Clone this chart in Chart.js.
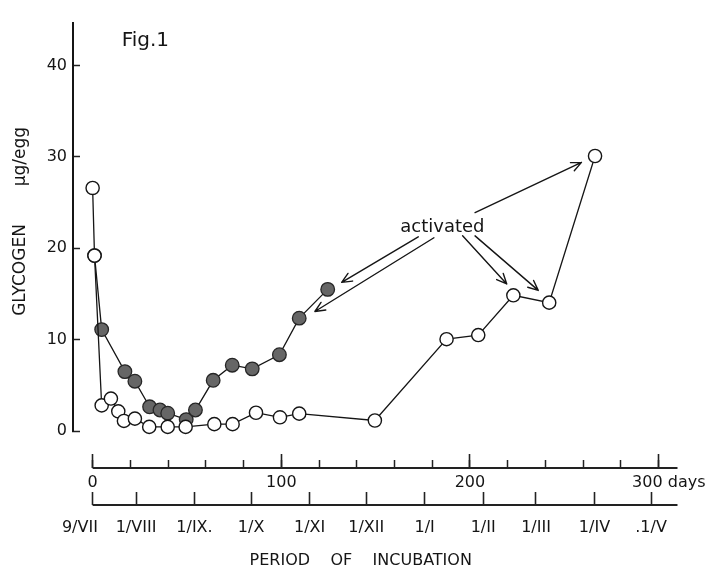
<!DOCTYPE html>
<html>
<head>
<meta charset="utf-8">
<script src="https://cdn.jsdelivr.net/npm/chart.js@4/dist/chart.umd.min.js"></script>
<style>
  html, body { margin: 0; padding: 0; background: #ffffff; }
  canvas { display: block; }
</style>
</head>
<body>
<canvas id="c" width="708" height="572"></canvas>
<script>
// ---- Data (x: days of incubation from 9/VII, y: glycogen µg/egg) ----
const OPEN_DAYS      = [0, 1, 4.8, 9.7, 13.6, 16.6, 22.4, 30, 39.8, 49.3, 64.5, 74.2, 86.6, 99.3, 109.5, 149.6, 187.6, 204.4, 223, 242, 266.3];
const OPEN_GLYCOGEN  = [26.6, 19.2, 2.8, 3.55, 2.15, 1.1, 1.35, 0.45, 0.45, 0.45, 0.75, 0.75, 2.0, 1.5, 1.9, 1.15, 10.05, 10.5, 14.85, 14.05, 30.1];

const FILLED_DAYS     = [1, 4.8, 17.1, 22.4, 30.2, 35.7, 39.8, 49.6, 54.5, 63.9, 74, 84.6, 99, 109.5, 124.6];
const FILLED_GLYCOGEN = [19.2, 11.1, 6.5, 5.45, 2.65, 2.3, 1.95, 1.25, 2.3, 5.55, 7.2, 6.8, 8.35, 12.35, 15.5];

// ---- Tick values and labels ----
const Y_TICKS           = [0, 10, 20, 30, 40];
const DAY_MINOR_TICKS   = [0, 20, 40, 60, 80, 100, 120, 140, 160, 180, 200, 220, 240, 260, 280, 300];
const DAY_MAJOR_TICKS   = [0, 100, 200, 300];
const DAY_MAJOR_LABELS  = ['0', '100', '200', '    300 days'];
const DATE_TICK_DAYS    = [0, 23, 54, 84, 115, 145, 176, 207, 235, 266, 296];
const DATE_TICK_LABELS  = ['9/VII     ', '1/VIII', '1/IX.', '1/X', '1/XI', '1/XII', '1/I', '1/II', '1/III', '1/IV', '.1/V'];

// ---- Axis ranges / placement (in data units) ----
const X_MIN = -10.4, X_MAX = 310.8;
const Y_MIN = 0, Y_MAX = 44.7;
const DAYS_AXIS_AT = -4.05;   // glycogen value at which the "days" axis is drawn
const DATE_AXIS_AT = -8.1;    // glycogen value at which the calendar axis is drawn
const AXIS_LINE_FROM = 0, AXIS_LINE_TO = 310;

// ---- Annotations (data coordinates) ----
const FIG_LABEL = { text: 'Fig.1', day: 15.4, value: 42.1 };
const ACTIVATED_LABEL = { text: 'activated', day: 185.4, value: 21.8 };
const ARROWS = [
  [202.7, 23.9, 259.1, 29.4],
  [196.1, 21.36, 219.5, 16.1],
  [202.7, 21.36, 236.2, 15.39],
  [172.6, 21.25, 132.0, 16.27],
  [180.9, 21.15, 117.8, 13.08]
];

const FONT = 'DejaVu Sans';
const INK = '#151515';

const zeroPad = (s) => { s.paddingLeft = 0; s.paddingRight = 0; s.paddingTop = 0; s.paddingBottom = 0; };
const pts = (xs, ys) => xs.map((d, i) => ({ x: d, y: ys[i] }));

const annotate = {
  id: 'annotate',
  afterDatasetsDraw(chart) {
    const { ctx, scales: { x, y } } = chart;
    ctx.save();
    ctx.fillStyle = INK;
    ctx.textBaseline = 'alphabetic';
    ctx.textAlign = 'left';
    ctx.font = '20px "' + FONT + '"';
    ctx.fillText(FIG_LABEL.text, x.getPixelForValue(FIG_LABEL.day), y.getPixelForValue(FIG_LABEL.value));
    ctx.textAlign = 'center';
    ctx.font = '18px "' + FONT + '"';
    ctx.fillText(ACTIVATED_LABEL.text, x.getPixelForValue(ACTIVATED_LABEL.day), y.getPixelForValue(ACTIVATED_LABEL.value));

    ctx.strokeStyle = INK;
    ctx.lineWidth = 1.4;
    ctx.lineCap = 'round';
    ctx.lineJoin = 'round';
    for (const [d0, v0, d1, v1] of ARROWS) {
      const x0 = x.getPixelForValue(d0), y0 = y.getPixelForValue(v0);
      const x1 = x.getPixelForValue(d1), y1 = y.getPixelForValue(v1);
      const a = Math.atan2(y1 - y0, x1 - x0);
      const L = 11, w = 0.42;
      ctx.beginPath();
      ctx.moveTo(x0, y0);
      ctx.lineTo(x1, y1);
      ctx.moveTo(x1 - L * Math.cos(a - w), y1 - L * Math.sin(a - w));
      ctx.lineTo(x1, y1);
      ctx.lineTo(x1 - L * Math.cos(a + w), y1 - L * Math.sin(a + w));
      ctx.stroke();
    }
    ctx.restore();
  }
};

new Chart(document.getElementById('c'), {
  type: 'line',
  data: {
    datasets: [
      {
        label: 'open circles',
        data: pts(OPEN_DAYS, OPEN_GLYCOGEN),
        borderColor: INK, borderWidth: 1.3,
        pointRadius: 6.6, pointBorderWidth: 1.4,
        pointBackgroundColor: '#ffffff', pointBorderColor: INK,
        tension: 0, clip: false
      },
      {
        label: 'filled circles',
        data: pts(FILLED_DAYS, FILLED_GLYCOGEN),
        borderColor: INK, borderWidth: 1.3,
        pointRadius: 6.8, pointBorderWidth: 1.3,
        pointBackgroundColor: '#666666', pointBorderColor: '#262626',
        tension: 0, clip: false
      },
      {
        label: 'days axis line',
        data: [{ x: AXIS_LINE_FROM, y: DAYS_AXIS_AT }, { x: AXIS_LINE_TO, y: DAYS_AXIS_AT }],
        borderColor: '#222', borderWidth: 2, pointRadius: 0, clip: false
      },
      {
        label: 'date axis line',
        data: [{ x: AXIS_LINE_FROM, y: DATE_AXIS_AT }, { x: AXIS_LINE_TO, y: DATE_AXIS_AT }],
        borderColor: '#222', borderWidth: 2, pointRadius: 0, clip: false
      }
    ]
  },
  options: {
    responsive: false,
    animation: false,
    devicePixelRatio: 1,
    layout: { padding: { top: 12, right: 29, bottom: 0, left: 0 } },
    plugins: {
      legend: { display: false },
      tooltip: { enabled: false },
      title: {
        display: true,
        position: 'bottom',
        fullSize: false,
        text: 'PERIOD    OF    INCUBATION      ',
        color: INK,
        font: { family: FONT, size: 16, weight: 'normal' },
        padding: { top: 120.4, bottom: 1.4 }
      }
    },
    scales: {
      x: {
        type: 'linear', min: X_MIN, max: X_MAX,
        position: { y: DAYS_AXIS_AT },
        border: { display: false },
        grid: { drawOnChartArea: false, tickLength: -8, tickWidth: 1.5, tickColor: '#222' },
        ticks: { display: false, autoSkip: false },
        afterBuildTicks: (s) => { s.ticks = DAY_MINOR_TICKS.map(v => ({ value: v })); },
        afterFit: zeroPad
      },
      xMajor: {
        type: 'linear', axis: 'x', min: X_MIN, max: X_MAX,
        position: { y: DAYS_AXIS_AT },
        border: { display: false },
        grid: { drawOnChartArea: false, tickLength: -14, tickWidth: 1.6, tickColor: '#222' },
        ticks: {
          autoSkip: false, maxRotation: 0, minRotation: 0, padding: 19,
          color: INK, font: { family: FONT, size: 16 },
          callback: (v, i) => DAY_MAJOR_LABELS[i]
        },
        afterBuildTicks: (s) => { s.ticks = DAY_MAJOR_TICKS.map(v => ({ value: v })); },
        afterFit: zeroPad
      },
      xDate: {
        type: 'linear', axis: 'x', min: X_MIN, max: X_MAX,
        position: { y: DATE_AXIS_AT },
        border: { display: false },
        grid: { drawOnChartArea: false, tickLength: -13, tickWidth: 1.6, tickColor: '#222' },
        ticks: {
          autoSkip: false, maxRotation: 0, minRotation: 0, padding: 26,
          color: INK, font: { family: FONT, size: 16 },
          callback: (v, i) => DATE_TICK_LABELS[i]
        },
        afterBuildTicks: (s) => { s.ticks = DATE_TICK_DAYS.map(v => ({ value: v })); },
        afterFit: zeroPad
      },
      y: {
        type: 'linear', position: 'left', min: Y_MIN, max: Y_MAX,
        border: { color: INK, width: 2 },
        grid: { drawOnChartArea: false, tickLength: -7, tickWidth: 1.5, tickColor: '#222' },
        ticks: { padding: 13, color: INK, font: { family: FONT, size: 16 } },
        afterBuildTicks: (s) => { s.ticks = Y_TICKS.map(v => ({ value: v })); },
        afterFit: (s) => { s.width = 73; },
        title: {
          display: true,
          text: '  GLYCOGEN       μg/egg',
          color: INK,
          font: { family: FONT, size: 17, weight: 'normal' },
          padding: { top: 10.8, bottom: 0 }
        }
      }
    }
  },
  plugins: [annotate]
});
</script>
</body>
</html>
